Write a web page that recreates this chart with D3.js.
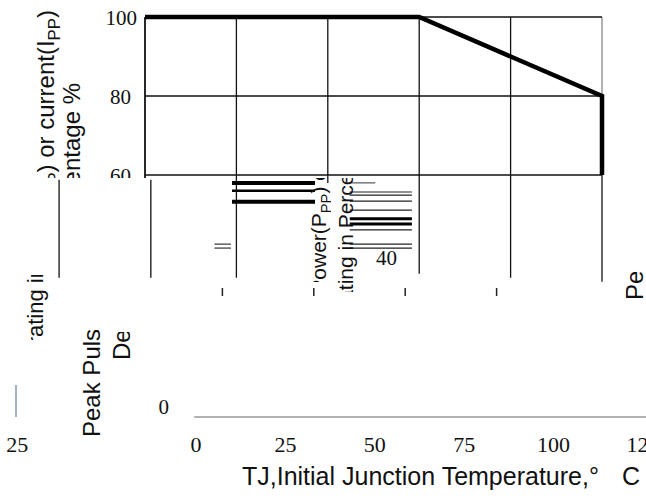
<!DOCTYPE html>
<html>
<head>
<meta charset="utf-8">
<script src="https://cdn.jsdelivr.net/npm/d3@7"></script>
<style>
  html, body { margin: 0; padding: 0; background: #fff; overflow: hidden; }
</style>
</head>
<body>
<svg id="chart" width="646" height="496"></svg>
<script>
// derating curve: % of rated peak pulse power vs junction temperature
const temps = [0, 75, 125, 125];
const ratings = [100, 100, 80, 60];

const gridTemps = [0, 25, 50, 75, 100, 125];
const gridPcts = [60, 80, 100];
const pctLabels = ["60", "80", "100"];

const bottomTemps = [0, 25, 50, 75, 100, 125];
const bottomLabels = ["0", "25", "50", "75", "100", "125"];

const xTitle = "TJ,Initial Junction Temperature,°";
const xUnit = "C";
const yTitle1 = [["Peak Pulse Power(P", ""], ["PP", "sub"], [") or current(I", ""], ["PP", "sub"], [")", ""]];
const yTitle2 = [["Derating in Percentage %", ""]];

// the scan is torn below 60 %: leftovers of the lower half
const tornGridTemps = [25, 50, 75, 100, 125];
const tornGridEnds = [34, 58, 35, 34, 33];
const ghostGridTemps = [-23.5, 1.6];
const smearRows = [58, 56, 53.2];
const thinStreaks = [55.7, 54.9, 53.4, 51.1, 46.1, 42.5, 41.5];
const heavyStreaks = [48.9, 47.6];
const dashRows = [42.5, 41.5];
const tickStubTemps = [25, 50, 75, 100];

const serif = '"Liberation Serif", "Times New Roman", serif';
const sans = '"Liberation Sans", Arial, sans-serif';

const svg = d3.select("#chart");
const defs = svg.append("defs");
function clip(id, x0, y0, x1, y1) {
  defs.append("clipPath").attr("id", id)
    .append("rect").attr("x", x0).attr("y", y0).attr("width", x1 - x0).attr("height", y1 - y0);
  return `url(#${id})`;
}

const x = d3.scaleLinear().domain([0, 125]).range([145, 602]);
const y = d3.scaleLinear().domain([60, 100]).range([175, 17]);
const xb = d3.scaleLinear().domain([0, 125]).range([196, 643]);

// upper plot
const plot = svg.append("g").attr("clip-path", clip("top", 0, 0, 646, 178));

plot.selectAll("line.v")
  .data(gridTemps)
  .join("line")
  .attr("x1", d => x(d)).attr("x2", d => x(d))
  .attr("y1", y(100)).attr("y2", d => d === 0 ? 178 : y(60))
  .attr("stroke", d => d === 125 ? "#888" : "#111")
  .attr("stroke-width", d => d === 0 ? 1.8 : 1.3);

plot.selectAll("line.h")
  .data(gridPcts)
  .join("line")
  .attr("x1", x(0)).attr("x2", x(125))
  .attr("y1", d => y(d)).attr("y2", d => y(d))
  .attr("stroke", "#111").attr("stroke-width", 1.3);

plot.append("path")
  .datum(temps.map((t, i) => [t, ratings[i]]))
  .attr("fill", "none")
  .attr("stroke", "#000")
  .attr("stroke-width", 4.5)
  .attr("stroke-linejoin", "miter")
  .attr("d", d3.line().x(d => x(d[0])).y(d => y(d[1])));

plot.selectAll("text.ytick")
  .data(gridPcts)
  .join("text")
  .attr("x", d => d === 100 ? 137 : 131).attr("y", d => y(d))
  .attr("dy", "0.37em")
  .attr("text-anchor", "end")
  .style("font", `21px ${serif}`)
  .attr("fill", "#111")
  .text((d, i) => pctLabels[i]);

// torn lower half
const torn = svg.append("g");
torn.selectAll("line.tg")
  .data(tornGridTemps)
  .join("line")
  .attr("x1", d => x(d)).attr("x2", d => x(d))
  .attr("y1", y(60)).attr("y2", (d, i) => y(tornGridEnds[i]))
  .attr("stroke", "#111").attr("stroke-width", 1.3);

torn.selectAll("line.gg")
  .data(ghostGridTemps)
  .join("line")
  .attr("x1", d => x(d)).attr("x2", d => x(d))
  .attr("y1", y(58.8)).attr("y2", y(34))
  .attr("stroke", "#111").attr("stroke-width", 1.3);

torn.selectAll("line.sm")
  .data(smearRows)
  .join("line")
  .attr("x1", x(23.8)).attr("x2", x(46.5))
  .attr("y1", d => y(d)).attr("y2", d => y(d))
  .attr("stroke", "#000").attr("stroke-width", (d, i) => i === 1 ? 2.5 : 4);

torn.selectAll("line.th")
  .data(thinStreaks)
  .join("line")
  .attr("x1", x(56)).attr("x2", x(73))
  .attr("y1", d => y(d)).attr("y2", d => y(d))
  .attr("stroke", "#222").attr("stroke-width", 1.2);

torn.selectAll("line.hv")
  .data(heavyStreaks)
  .join("line")
  .attr("x1", x(56)).attr("x2", x(73))
  .attr("y1", d => y(d)).attr("y2", d => y(d))
  .attr("stroke", "#000").attr("stroke-width", 3);

torn.selectAll("line.ds")
  .data(dashRows)
  .join("line")
  .attr("x1", x(19)).attr("x2", x(23.5))
  .attr("y1", d => y(d)).attr("y2", d => y(d))
  .attr("stroke", "#333").attr("stroke-width", 1.2);

torn.append("line")
  .attr("x1", x(56)).attr("x2", x(63))
  .attr("y1", y(58)).attr("y2", y(58))
  .attr("stroke", "#333").attr("stroke-width", 1);

torn.selectAll("line.stub")
  .data(tickStubTemps)
  .join("line")
  .attr("x1", d => x(d) - 14).attr("x2", d => x(d) - 14)
  .attr("y1", 288).attr("y2", 296)
  .attr("stroke", "#222").attr("stroke-width", 1.5);

torn.append("text")
  .attr("x", 397).attr("y", y(40))
  .attr("dy", "0.5em")
  .attr("text-anchor", "end")
  .style("font", `21px ${serif}`)
  .attr("fill", "#111")
  .text("40");

// rotated y title, scattered in pieces over the torn scan
function titleLine(parts, size, clipUrl) {
  const g = svg.append("g").attr("clip-path", clipUrl).append("g");
  const t = g.append("text")
    .attr("transform", "rotate(-90)")
    .style("font", `${size}px ${sans}`)
    .attr("fill", "#111");
  let shifted = false;
  parts.forEach(p => {
    const s = t.append("tspan").text(p[0]);
    if (p[1] === "sub") {
      s.style("font-size", `${size * 0.7}px`).attr("dy", size * 0.25);
      shifted = true;
    } else if (shifted) {
      s.attr("dy", -size * 0.25);
      shifted = false;
    }
  });
  return { g, node: t.node() };
}
function placeEnd(parts, size, bx, yEnd, clipUrl) {
  const l = titleLine(parts, size, clipUrl);
  l.g.attr("transform", `translate(${bx},${yEnd + l.node.getComputedTextLength()})`);
}
function placeAt(parts, size, bx, idx, yAt, clipUrl) {
  const l = titleLine(parts, size, clipUrl);
  const off = idx > 0 ? l.node.getSubStringLength(0, idx) : 0;
  l.g.attr("transform", `translate(${bx},${yAt + off})`);
}

const cTop = clip("ttop", 0, 0, 140, 178);
placeEnd(yTitle1, 24, 54, 10, cTop);
placeEnd(yTitle2, 24, 80, 83, cTop);

const cBot1 = clip("tbot1", 75, 330, 106, 445);
const cBot2 = clip("tbot2", 106, 332, 136, 445);
placeAt(yTitle1, 24, 100, 0, 437, cBot1);
placeAt(yTitle2, 24, 130, 0, 360, cBot2);

const cMid1 = clip("tmid1", 298, 178, 331, 282);
const cMid2 = clip("tmid2", 331, 178, 362, 292);
placeAt(yTitle1, 21, 326, 13, 268, cMid1);
placeAt(yTitle2, 21, 353, 7, 268, cMid2);

placeAt(yTitle2, 22, 43, 3, 337, clip("tleft", 22, 275, 50, 340));
placeAt(yTitle1, 24, 643, 0, 300, clip("tright", 620, 272, 646, 303));

// bottom axis
const bottom = svg.append("g");
bottom.append("line")
  .attr("x1", xb(-0.5)).attr("x2", 646)
  .attr("y1", 417).attr("y2", 417)
  .attr("stroke", "#999").attr("stroke-width", 1.5);

bottom.append("line")
  .attr("x1", 16).attr("x2", 16)
  .attr("y1", 385).attr("y2", 417)
  .attr("stroke", "#8a96b0").attr("stroke-width", 1.5);

bottom.selectAll("text.xtick")
  .data(bottomTemps)
  .join("text")
  .attr("x", d => xb(d)).attr("y", 452)
  .attr("text-anchor", "middle")
  .style("font", `22px ${serif}`)
  .attr("fill", "#111")
  .text((d, i) => bottomLabels[i]);

// stray pieces of the lower axis labels
bottom.append("text")
  .attr("x", xb(-50)).attr("y", 452)
  .attr("text-anchor", "middle")
  .style("font", `22px ${serif}`)
  .attr("fill", "#111")
  .text(bottomLabels[1]);

bottom.append("text")
  .attr("x", 169).attr("y", 414)
  .attr("text-anchor", "end")
  .style("font", `21px ${serif}`)
  .attr("fill", "#111")
  .text(bottomLabels[0]);

const xt = bottom.append("text")
  .attr("x", 242).attr("y", 485)
  .style("font", `25px ${sans}`)
  .attr("fill", "#111");
xt.append("tspan").text(xTitle);
xt.append("tspan").attr("x", 622).text(xUnit);
</script>
</body>
</html>
